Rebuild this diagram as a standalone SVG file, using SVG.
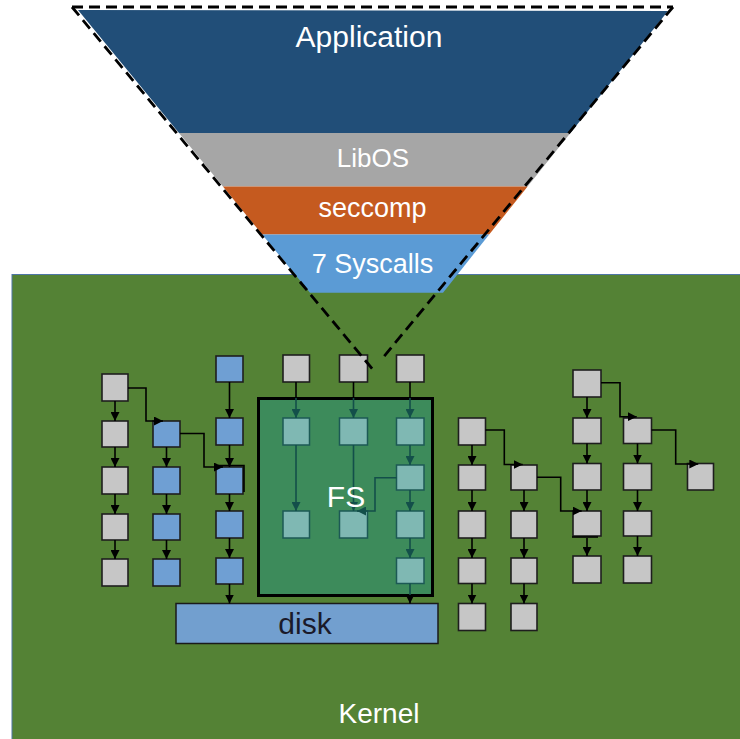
<svg xmlns="http://www.w3.org/2000/svg" width="740" height="739" viewBox="0 0 740 739">
<defs>
<style>
.g{fill:#c6c6c6;stroke:#1e1e1e;stroke-width:1.6}
.b{fill:#6f9fd3;stroke:#1e1e1e;stroke-width:1.6}
.t{fill:#7fb8b3;stroke:#1c5955;stroke-width:1.5}
.a{fill:none;stroke:#000;stroke-width:1.6;marker-end:url(#ah)}
.l{fill:none;stroke:#000;stroke-width:1.6}
.at{fill:none;stroke:#134f4a;stroke-width:1.6;marker-end:url(#aht)}
.lt{fill:none;stroke:#134f4a;stroke-width:1.6}
.w{font-family:"Liberation Sans",Arial,sans-serif;fill:#fff;text-anchor:middle}
.d{font-family:"Liberation Sans",Arial,sans-serif;fill:#1a1a2a;text-anchor:middle}
.dash{fill:none;stroke:#000;stroke-width:2.8;stroke-dasharray:11 6}
</style>
<marker id="ah" markerUnits="userSpaceOnUse" markerWidth="9" markerHeight="9" refX="9" refY="4.5" orient="auto"><path d="M0,0 L9,4.5 L0,9 z" fill="#000"/></marker>
<marker id="aht" markerUnits="userSpaceOnUse" markerWidth="9" markerHeight="9" refX="9" refY="4.5" orient="auto"><path d="M0,0 L9,4.5 L0,9 z" fill="#134f4a"/></marker>
</defs>
<rect width="740" height="739" fill="#fff"/>
<g id="kernel">
<rect x="12" y="274.5" width="730" height="466" fill="#548235" stroke="#4f76a6" stroke-width="1"/>
<text class="w" x="379" y="723" font-size="28">Kernel</text>
</g>
<g id="application">
<polygon points="78,10 668,11 570.4,133 179,133" fill="#214e78"/>
<text class="w" x="369" y="47" font-size="30">Application</text>
</g>
<g id="libos">
<polygon points="179,133 570.4,133 527.6,186.5 222.9,186.5" fill="#a6a6a6"/>
<text class="w" x="373" y="167" font-size="26">LibOS</text>
</g>
<g id="seccomp">
<polygon points="222.9,186.5 527.6,186.5 489.2,234.5 262.2,234.5" fill="#c55a1f"/>
<text class="w" x="372.5" y="217" font-size="27">seccomp</text>
</g>
<g id="syscalls">
<polygon points="262.2,234.5 489.2,234.5 443,292.7 310,292.7" fill="#5b9bd5"/>
<text class="w" x="372.5" y="273" font-size="27">7 Syscalls</text>
</g>
<g id="fs">
<rect x="258.5" y="398.5" width="174" height="197" fill="#3d8b5b" stroke="#000" stroke-width="3"/>
</g>
<g id="disk">
<rect x="176" y="603.5" width="262" height="40" fill="#729fcf" stroke="#1a1a1a" stroke-width="1.5"/>
<text class="d" x="305" y="634" font-size="30">disk</text>
</g>
<g id="col-a">
<g id="a1"><rect class="g" x="102" y="374" width="26" height="27"/></g>
<g id="a2"><rect class="g" x="102" y="421" width="26" height="26"/></g>
<g id="a3"><rect class="g" x="102" y="467" width="26" height="27"/></g>
<g id="a4"><rect class="g" x="102" y="514" width="26" height="26"/></g>
<g id="a5"><rect class="g" x="102" y="559" width="26" height="27"/></g>
</g>
<g id="col-b">
<g id="b1"><rect class="b" x="153" y="421" width="27" height="26"/></g>
<g id="b2"><rect class="b" x="153" y="467" width="27" height="27"/></g>
<g id="b3"><rect class="b" x="153" y="514" width="27" height="26"/></g>
<g id="b4"><rect class="b" x="153" y="559" width="27" height="27"/></g>
</g>
<g id="col-c">
<g id="c1"><rect class="b" x="216" y="356" width="27" height="26"/></g>
<g id="c2"><rect class="b" x="216" y="418" width="27" height="27"/></g>
<g id="c3"><rect class="b" x="216" y="467" width="27" height="27"/><path class="l" d="M218,465.5 H244 V492" stroke-width="2"/></g>
<g id="c4"><rect class="b" x="216" y="511" width="27" height="27"/></g>
<g id="c5"><rect class="b" x="216" y="558" width="27" height="26"/></g>
</g>
<g id="col-mid">
<g id="m1"><rect class="g" x="283" y="355" width="26.5" height="27"/></g>
<g id="m2"><rect class="g" x="339.5" y="355" width="28" height="27"/></g>
<g id="m3"><rect class="g" x="396.5" y="355" width="27.5" height="27"/></g>
<g id="f1a"><rect class="t" x="283" y="418" width="26.5" height="27"/></g>
<g id="f1b"><rect class="t" x="283" y="511" width="26.5" height="27"/></g>
<g id="f2a"><rect class="t" x="339.5" y="418" width="28" height="27"/></g>
<g id="f2b"><rect class="t" x="339.5" y="511" width="28" height="27"/></g>
<g id="f3a"><rect class="t" x="396.5" y="418" width="27.5" height="27"/></g>
<g id="f3b"><rect class="t" x="396.5" y="465" width="27.5" height="25"/></g>
<g id="f3c"><rect class="t" x="396.5" y="511" width="27.5" height="27"/></g>
<g id="f3d"><rect class="t" x="396.5" y="558" width="27.5" height="25.5"/></g>
</g>
<g id="col-d">
<g id="d1"><rect class="g" x="458.5" y="418" width="27" height="27"/></g>
<g id="d2"><rect class="g" x="458.5" y="465" width="27" height="25"/></g>
<g id="d3"><rect class="g" x="458.5" y="511" width="27" height="27"/></g>
<g id="d4"><rect class="g" x="458.5" y="558" width="27" height="25.5"/></g>
<g id="d5"><rect class="g" x="458.5" y="603.5" width="27" height="27"/></g>
</g>
<g id="col-e">
<g id="e1"><rect class="g" x="511" y="465" width="26" height="25"/></g>
<g id="e2"><rect class="g" x="511" y="511" width="26" height="27"/></g>
<g id="e3"><rect class="g" x="511" y="558" width="26" height="25.5"/></g>
<g id="e4"><rect class="g" x="511" y="603.5" width="26" height="27"/></g>
</g>
<g id="col-f">
<g id="fa"><rect class="g" x="573" y="370" width="28" height="27"/></g>
<g id="fb"><rect class="g" x="573" y="418" width="28" height="25.5"/></g>
<g id="fc"><rect class="g" x="573" y="463.5" width="28" height="26.5"/></g>
<g id="fd"><rect class="g" x="573" y="511" width="28" height="25"/><line class="l" x1="572" y1="537" x2="598" y2="537" stroke-width="2.2"/></g>
<g id="fe"><rect class="g" x="573" y="556" width="28" height="27"/></g>
</g>
<g id="col-g">
<g id="ga"><rect class="g" x="623.5" y="418" width="28" height="25.5"/></g>
<g id="gb"><rect class="g" x="623.5" y="463.5" width="28" height="26.5"/></g>
<g id="gc"><rect class="g" x="623.5" y="511" width="28" height="25"/></g>
<g id="gd"><rect class="g" x="623.5" y="556" width="28" height="27"/></g>
</g>
<g id="col-h">
<g id="h1"><rect class="g" x="687.5" y="463.5" width="26" height="26.5"/></g>
</g>
<g id="connectors">
<path class="a" d="M115,401 V421"/>
<path class="a" d="M115,447 V467"/>
<path class="a" d="M115,494 V514"/>
<path class="a" d="M115,540 V559"/>
<path class="a" d="M166.5,447 V467"/>
<path class="a" d="M166.5,494 V514"/>
<path class="a" d="M166.5,540 V559"/>
<path class="a" d="M229.5,382 V418"/>
<path class="a" d="M229.5,445 V467"/>
<path class="a" d="M229.5,494 V511"/>
<path class="a" d="M229.5,538 V558"/>
<path class="a" d="M229.5,584 V603.5"/>
<path class="a" d="M128,388 H146 V421 H163"/>
<path class="a" d="M180,433.5 H204 V467 H223"/>
<path class="l" d="M296,382 V398"/>
<path class="l" d="M353.5,382 V398"/>
<path class="l" d="M410,382 V398"/>
<path class="at" d="M296,398 V418"/>
<path class="at" d="M353.5,398 V418"/>
<path class="at" d="M410,398 V418"/>
<path class="at" d="M296,445 V511"/>
<path class="at" d="M353.5,445 V511"/>
<path class="at" d="M410,445 V465"/>
<path class="at" d="M410,490 V511"/>
<path class="at" d="M410,538 V558"/>
<path class="lt" d="M410,583.5 V596"/>
<path class="a" d="M410,596 V603.5"/>
<path class="at" d="M396.5,477.7 H375 V511 H357"/>
<path class="a" d="M472,445 V465"/>
<path class="a" d="M472,490 V511"/>
<path class="a" d="M472,538 V558"/>
<path class="a" d="M472,583.5 V603.5"/>
<path class="a" d="M524,490 V511"/>
<path class="a" d="M524,538 V558"/>
<path class="a" d="M524,583.5 V603.5"/>
<path class="a" d="M587,397 V418"/>
<path class="a" d="M587,443.5 V463.5"/>
<path class="a" d="M587,490 V511"/>
<path class="a" d="M587,538 V556"/>
<path class="a" d="M637.5,443.5 V463.5"/>
<path class="a" d="M637.5,490 V511"/>
<path class="a" d="M637.5,536 V556"/>
<path class="a" d="M485.5,430 H504.3 V464.5 H522.7"/>
<path class="a" d="M537,477.3 H560.7 V511 H581.7"/>
<path class="a" d="M601,382.7 H620 V416.7 H636.7"/>
<path class="a" d="M651.5,430 H675.7 V464 H698.3"/>
</g>
<g id="fs-label">
<text class="w" x="346" y="507" font-size="30">FS</text>
</g>
<g id="funnel-outline">
<line class="dash" x1="72" y1="7" x2="673" y2="7"/>
<line class="dash" x1="72" y1="7" x2="374" y2="371"/>
<line class="dash" x1="673" y1="7" x2="381" y2="360"/>
</g>
</svg>
